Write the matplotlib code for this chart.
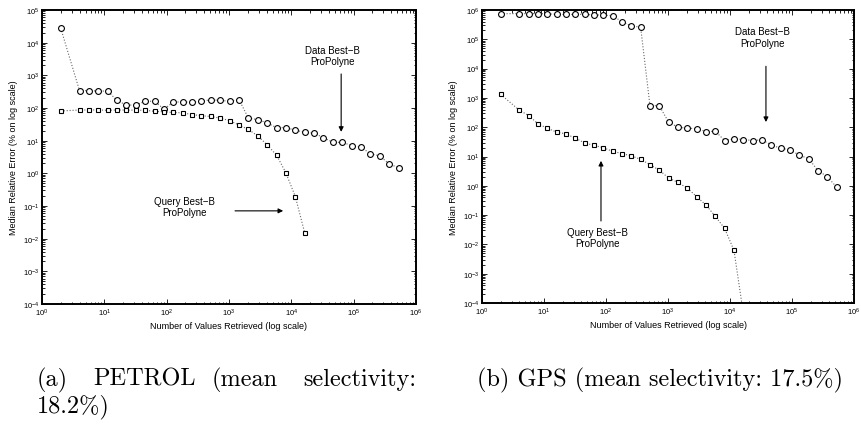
import numpy as np
import matplotlib
matplotlib.use('Agg')
from matplotlib import pyplot as plt
from matplotlib.ticker import LogLocator, NullFormatter

plt.rcParams['font.family'] = ['Liberation Sans', 'DejaVu Sans']
plt.rcParams['axes.formatter.use_mathtext'] = True

# x positions: number of values retrieved (powers of sqrt(2))
x_circ = [2, 4, 5.66, 8, 11.3, 16, 22.6, 32, 45.3, 64, 90.5, 128, 181, 256, 362,
          512, 724, 1024, 1448, 2048, 2896, 4096, 5793, 8192, 11585, 16384,
          23170, 32768, 46341, 65536, 92682, 131072, 185364, 262144, 370728, 524288]
x_sq = x_circ[:26]

# (a) PETROL
petrol_data = [27500, 340, 340, 330, 330, 170, 123, 123, 162, 160, 93, 150, 155, 150,
               160, 180, 170, 162, 180, 49, 44, 35, 25, 25, 21, 18, 17, 12.3, 8.9, 8.9,
               7.1, 6.3, 4.0, 3.4, 1.95, 1.48]
petrol_query = [81, 87, 87, 87, 85, 87, 86, 86, 85, 79, 76, 73, 71, 63, 58, 55, 49, 41,
                30, 22, 14, 7.4, 3.6, 1.03, 0.195, 0.015]

# (b) GPS
gps_data = [750000, 750000, 750000, 750000, 740000, 710000, 710000, 710000, 710000,
            675000, 675000, 630000, 400000, 285000, 260000, 540, 540, 148, 100, 92, 90,
            71, 73, 35, 40, 38, 35, 37, 25, 19, 17, 11.1, 8.5, 3.3, 2.05, 0.9]
gps_query = [1320, 380, 250, 130, 92, 68, 59, 42, 29, 24, 20, 15, 12.6, 10.5, 8, 5.3,
             3.4, 1.85, 1.3, 0.83, 0.43, 0.22, 0.091, 0.035, 0.0063, 4.5e-5]

W, H = 861, 427
fig = plt.figure(figsize=(W / 100, H / 100), dpi=100)


def px_axes(l, t, r, b):
    return fig.add_axes([l / W, 1 - b / H, (r - l) / W, (b - t) / H])


def style(ax, ylo, yhi):
    ax.set_xscale('log')
    ax.set_yscale('log')
    ax.set_xlim(1, 1e6)
    ax.set_ylim(ylo, yhi)
    ax.xaxis.set_major_locator(LogLocator(base=10, numticks=20))
    ax.yaxis.set_major_locator(LogLocator(base=10, numticks=20))
    for a in (ax.xaxis, ax.yaxis):
        a.set_minor_locator(LogLocator(base=10, subs=np.arange(2, 10), numticks=20))
        a.set_minor_formatter(NullFormatter())
    ax.tick_params(which='both', direction='in', top=True, right=True,
                   labelsize=5.5, width=0.6, pad=2)
    ax.tick_params(which='major', length=3.5)
    ax.tick_params(which='minor', length=1.8)
    for s in ax.spines.values():
        s.set_linewidth(1.4)
    ax.set_xlabel('Number of Values Retrieved (log scale)', fontsize=6.5, labelpad=2)
    ax.set_ylabel('Median Relative Error (% on log scale)', fontsize=6.5, labelpad=3)


def series(ax, x, y, marker, ms):
    ax.plot(x, y, ls=':', lw=0.8, color='#666666', marker=marker, ms=ms,
            mfc='white', mec='black', mew=0.8)


def note(ax, txt, tx, ty, tail, tip):
    ax.text(tx, ty, txt, ha='center', va='center', fontsize=7, linespacing=1.15)
    ax.annotate('', xy=tip, xytext=tail,
                arrowprops=dict(arrowstyle='-|>', lw=0.8, color='black',
                                mutation_scale=7, shrinkA=0, shrinkB=0))


ax1 = px_axes(42, 11, 416, 305)
style(ax1, 1e-4, 1e5)
series(ax1, x_circ, petrol_data, 'o', 4.2)
series(ax1, x_sq, petrol_query, 's', 3.2)
note(ax1, 'Data Best\u2212B\nProPolyne', 4.5e4, 4.1e3, (6.3e4, 1.1e3), (6.3e4, 18.6))
note(ax1, 'Query Best\u2212B\nProPolyne', 190, 0.095, (1250, 0.071), (7400, 0.071))

ax2 = px_axes(482, 11, 854, 304)
style(ax2, 1e-4, 1e6)
series(ax2, x_circ, gps_data, 'o', 4.2)
series(ax2, x_sq, gps_query, 's', 3.2)
note(ax2, 'Data Best\u2212B\nProPolyne', 3.3e4, 1.2e5, (3.8e4, 1.2e4), (3.8e4, 150))
note(ax2, 'Query Best\u2212B\nProPolyne', 74, 0.017, (83, 0.063), (83, 7.1))

# captions, Computer Modern like the paper; line (a) is justified word by word
cap = dict(family='cmr10', fontsize=17.5, va='baseline')
for word, xp, ha in [('(a)', 37, 'left'), ('PETROL', 93, 'left'),
                     ('(mean', 212, 'left'), ('selectivity:', 416, 'right')]:
    fig.text(xp / W, 1 - 386 / H, word, ha=ha, **cap)
fig.text(37 / W, 1 - 412 / H, '18.2%)', ha='left', **cap)
fig.text(477 / W, 1 - 386 / H, '(b) GPS (mean selectivity: 17.5%)', ha='left', **cap)

plt.savefig('out.png', dpi=100)
